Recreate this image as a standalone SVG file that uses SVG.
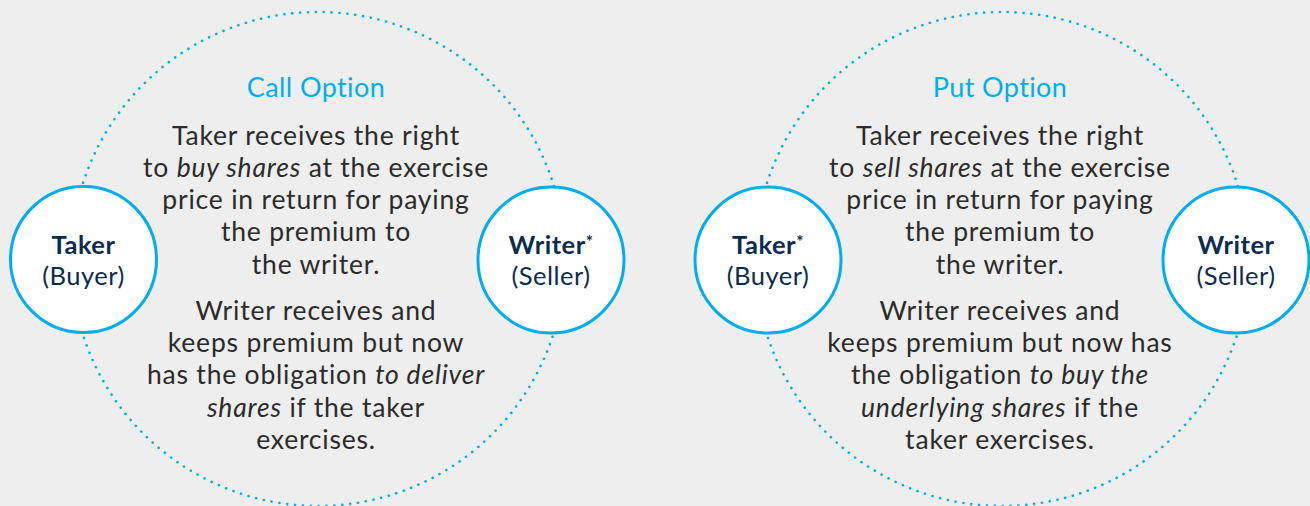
<svg xmlns="http://www.w3.org/2000/svg" width="1310" height="506" viewBox="0 0 1310 506">
<style>
.bg{fill:#eeeeee}
.ring{fill:none;stroke:#00aeef;stroke-width:2.6;stroke-dasharray:0.1 7.8;stroke-linecap:round}
.node{fill:#ffffff;stroke:#00aeef;stroke-width:3}
.title{font-family:Lato,"Open Sans",sans-serif;font-size:27px;fill:#00aeef;text-anchor:middle;letter-spacing:0.4px}
.body{font-family:Lato,"Open Sans",sans-serif;font-size:26.5px;fill:#2b2b2b;text-anchor:middle;letter-spacing:0.8px}
.lbl{font-family:Lato,"Open Sans",sans-serif;font-size:25.5px;fill:#0d2b4e;text-anchor:middle;letter-spacing:0.5px}
.b{font-weight:700}
.i{font-style:italic}
.ast{font-size:17px}
</style>
<rect class="bg" x="0" y="0" width="1310" height="506"/>
<g id="connectors">
<circle class="ring" cx="318" cy="259" r="247"/>
<circle class="ring" cx="1002" cy="259" r="247"/>
</g>
<g id="call-text">
<text class="title" x="316" y="97">Call Option</text>
<text class="body" x="316" y="145">Taker receives the right</text>
<text class="body" x="316" y="177">to <tspan class="i">buy shares</tspan> at the exercise</text>
<text class="body" x="316" y="209">price in return for paying</text>
<text class="body" x="316" y="241">the premium to</text>
<text class="body" x="316" y="274">the writer.</text>
<text class="body" x="316" y="320">Writer receives and</text>
<text class="body" x="316" y="352">keeps premium but now</text>
<text class="body" x="316" y="384">has the obligation <tspan class="i">to deliver</tspan></text>
<text class="body" x="316" y="417"><tspan class="i">shares</tspan> if the taker</text>
<text class="body" x="316" y="449">exercises.</text>
</g>
<g id="call-taker">
<circle class="node" cx="83.5" cy="259.5" r="73"/>
<text class="lbl b" x="83.5" y="254">Taker</text>
<text class="lbl" x="83.5" y="285">(Buyer)</text>
</g>
<g id="call-writer">
<circle class="node" cx="551" cy="260" r="73"/>
<text class="lbl b" x="551" y="254">Writer<tspan class="ast" dy="-6">*</tspan></text>
<text class="lbl" x="551" y="285">(Seller)</text>
</g>
<g id="put-text">
<text class="title" x="1000" y="97">Put Option</text>
<text class="body" x="1000" y="145">Taker receives the right</text>
<text class="body" x="1000" y="177">to <tspan class="i">sell shares</tspan> at the exercise</text>
<text class="body" x="1000" y="209">price in return for paying</text>
<text class="body" x="1000" y="241">the premium to</text>
<text class="body" x="1000" y="274">the writer.</text>
<text class="body" x="1000" y="320">Writer receives and</text>
<text class="body" x="1000" y="352">keeps premium but now has</text>
<text class="body" x="1000" y="384">the obligation <tspan class="i">to buy the</tspan></text>
<text class="body" x="1000" y="417"><tspan class="i">underlying shares</tspan> if the</text>
<text class="body" x="1000" y="449">taker exercises.</text>
</g>
<g id="put-taker">
<circle class="node" cx="768" cy="260" r="73"/>
<text class="lbl b" x="768" y="254">Taker<tspan class="ast" dy="-6">*</tspan></text>
<text class="lbl" x="768" y="285">(Buyer)</text>
</g>
<g id="put-writer">
<circle class="node" cx="1236" cy="260" r="73"/>
<text class="lbl b" x="1236" y="254">Writer</text>
<text class="lbl" x="1236" y="285">(Seller)</text>
</g>
</svg>
